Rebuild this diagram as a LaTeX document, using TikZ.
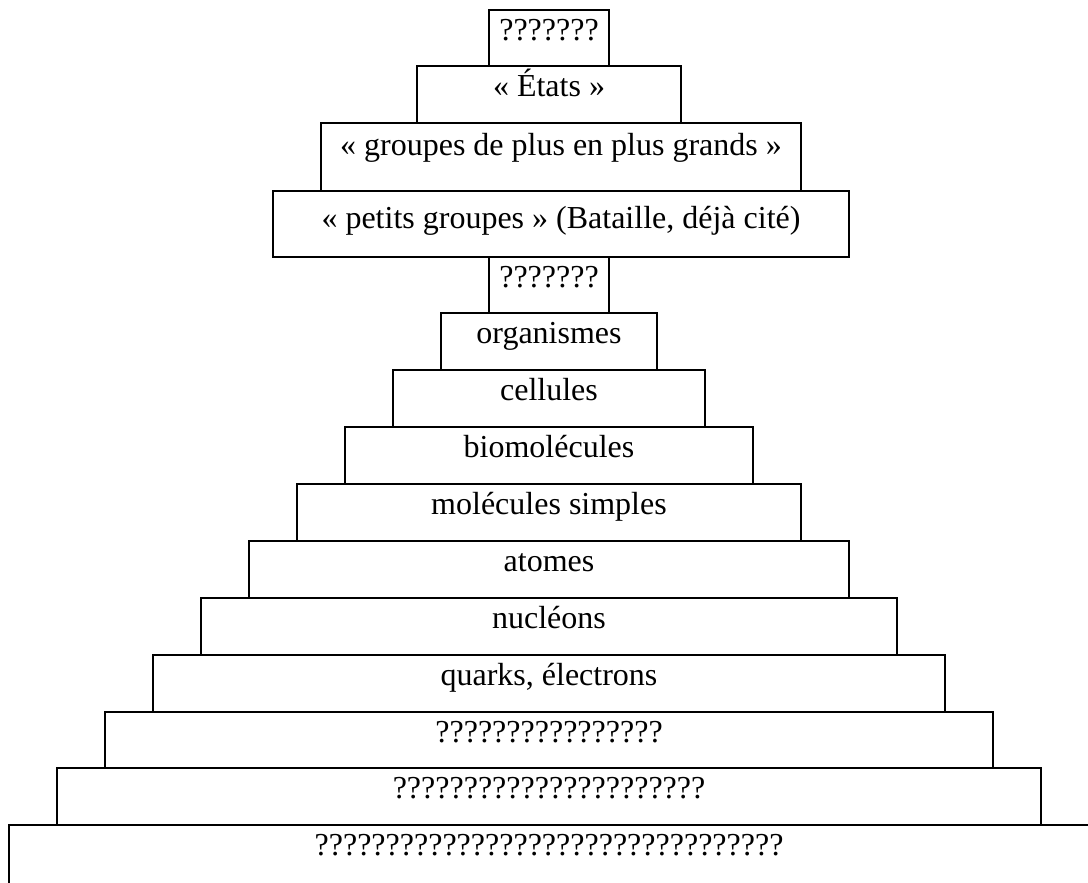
\documentclass[tikz,border=0pt]{standalone}
\usepackage{fontspec}
\setmainfont{Liberation Serif}
\usetikzlibrary{positioning}

\tikzset{
  tier/.style={draw, line width=1.2pt},
  lbl/.style={anchor=base, inner sep=0pt, font=\fontsize{24}{28}\selectfont}
}

\begin{document}
\begin{tikzpicture}[x=0.75pt,y=-0.75pt]
        \useasboundingbox (0,0) rectangle (1088,882);
        % upper stack
        \draw[tier] (489,10) rectangle (609,66);
        \node[lbl] (unknowntop) at (549,40) {???????};
        \draw[tier] (417,66) rectangle (681,123);
        \node[lbl] (etats) at (549,96) {« États »};
        \draw[tier] (321,123) rectangle (801,191);
        \node[lbl] (grandsgroupes) at (561,155) {« groupes de plus en plus grands »};
        \draw[tier] (273,191) rectangle (849,257);
        \node[lbl] (petitsgroupes) at (561,228) {« petits groupes » (Bataille, déjà cité)};
        % lower stack
        \draw[tier] (489,257) rectangle (609,313);
        \node[lbl] (unknownmid) at (549,287) {???????};
        \draw[tier] (441,313) rectangle (657,370);
        \node[lbl] (organismes) at (549,343) {organismes};
        \draw[tier] (393,370) rectangle (705,427);
        \node[lbl] (cellules) at (549,400) {cellules};
        \draw[tier] (345,427) rectangle (753,484);
        \node[lbl] (biomolecules) at (549,457) {biomolécules};
        \draw[tier] (297,484) rectangle (801,541);
        \node[lbl] (molecules) at (549,514) {molécules simples};
        \draw[tier] (249,541) rectangle (849,598);
        \node[lbl] (atomes) at (549,571) {atomes};
        \draw[tier] (201,598) rectangle (897,655);
        \node[lbl] (nucleons) at (549,628) {nucléons};
        \draw[tier] (153,655) rectangle (945,712);
        \node[lbl] (quarks) at (549,685) {quarks, électrons};
        \draw[tier] (105,712) rectangle (993,768);
        \node[lbl] (unknownlow) at (549,742) {????????????????};
        \draw[tier] (57,768) rectangle (1041,825);
        \node[lbl] (unknownlower) at (549,798) {??????????????????????};
        % bottom tier runs off the page
        \draw[tier] (9,884) -- (9,825) -- (1092,825);
        \node[lbl] (unknownbase) at (549,855) {?????????????????????????????????};
\end{tikzpicture}
\end{document}
